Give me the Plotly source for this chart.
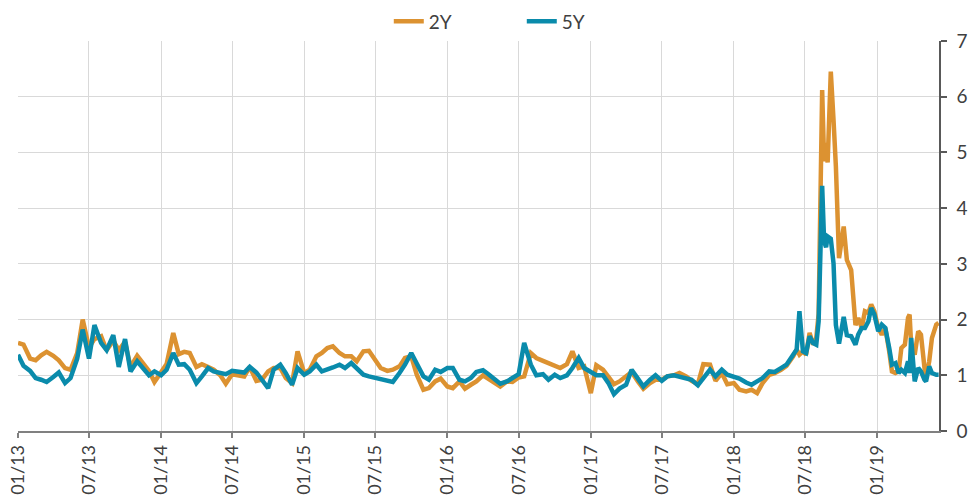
import pandas as pd
import plotly.graph_objects as go

# ---- data ----
# regular semi-monthly observations, Jan 2013 .. mid-May 2018
regular_dates = list(pd.date_range("2013-01-01", "2018-05-15", freq="SMS").strftime("%Y-%m-%d"))
# denser observations around the 2018 spike
extra_dates = [
    "2018-06-01", "2018-06-10", "2018-06-17", "2018-06-26", "2018-07-04", "2018-07-13",
    "2018-07-22", "2018-07-30", "2018-08-05", "2018-08-14", "2018-08-19", "2018-08-24",
    "2018-08-28", "2018-09-05", "2018-09-12", "2018-09-18", "2018-09-26", "2018-10-03",
    "2018-10-08", "2018-10-16", "2018-10-27", "2018-11-07", "2018-11-14", "2018-11-23",
    "2018-12-01", "2018-12-10", "2018-12-17", "2018-12-25", "2019-01-04", "2019-01-13",
    "2019-01-22", "2019-02-01", "2019-02-08", "2019-02-17", "2019-02-25", "2019-03-04",
    "2019-03-13", "2019-03-21", "2019-03-25", "2019-03-29", "2019-04-07", "2019-04-16",
    "2019-04-23", "2019-05-02", "2019-05-06", "2019-05-14", "2019-05-21", "2019-06-01",
    "2019-06-07",
]
dates = regular_dates + extra_dates

y2 = [
    # 2013
    1.58, 1.55, 1.30, 1.27, 1.36, 1.42, 1.35, 1.27, 1.13, 1.10, 1.40, 2.00,
    1.50, 1.65, 1.70, 1.45, 1.62, 1.45, 1.60, 1.15, 1.35, 1.22, 1.08, 0.88,
    # 2014
    1.05, 1.20, 1.76, 1.38, 1.42, 1.40, 1.15, 1.20, 1.15, 1.10, 1.00, 0.85,
    1.02, 1.00, 0.98, 1.15, 0.90, 0.92, 1.07, 1.13, 1.13, 0.95, 0.86, 1.43,
    # 2015
    1.04, 1.10, 1.34, 1.40, 1.49, 1.52, 1.40, 1.34, 1.34, 1.25, 1.43, 1.44,
    1.28, 1.13, 1.08, 1.10, 1.16, 1.31, 1.34, 1.01, 0.74, 0.77, 0.89, 0.94,
    # 2016
    0.80, 0.77, 0.89, 0.76, 0.83, 0.89, 1.00, 0.93, 0.86, 0.80, 0.89, 0.88,
    0.96, 0.98, 1.40, 1.31, 1.26, 1.22, 1.16, 1.13, 1.20, 1.43, 1.13, 1.16,
    # 2017
    0.68, 1.18, 1.10, 0.98, 0.84, 0.89, 0.98, 1.06, 0.89, 0.76, 0.86, 0.92,
    0.92, 0.98, 1.00, 1.04, 0.98, 0.90, 0.84, 1.20, 1.19, 0.90, 1.04, 0.84,
    # 2018 Jan - mid May
    0.86, 0.74, 0.71, 0.74, 0.68, 0.86, 1.01, 1.04, 1.10, 1.17,
    # dense part
    1.34, 1.46, 1.37, 1.43, 1.37, 1.76, 1.55, 1.67, 2.10, 6.12, 4.84, 5.17,
    4.82, 6.45, 5.58, 4.75, 3.10, 3.40, 3.67, 3.07, 2.89, 1.90, 2.03, 1.85,
    2.15, 2.12, 2.27, 2.15, 1.85, 1.73, 1.85, 1.43, 1.07, 1.04, 1.07, 1.49,
    1.55, 2.03, 2.09, 1.55, 1.37, 1.79, 1.73, 1.13, 0.95, 1.25, 1.67, 1.91,
    1.94,
]

y5 = [
    # 2013
    1.37, 1.17, 1.08, 0.95, 0.92, 0.88, 0.97, 1.05, 0.86, 0.95, 1.30, 1.82,
    1.30, 1.90, 1.58, 1.45, 1.72, 1.15, 1.65, 1.07, 1.25, 1.12, 1.00, 1.07,
    # 2014
    1.00, 1.10, 1.40, 1.19, 1.20, 1.10, 0.86, 0.98, 1.13, 1.07, 1.05, 1.02,
    1.08, 1.07, 1.05, 1.15, 1.05, 0.92, 0.77, 1.10, 1.19, 1.04, 0.83, 1.13,
    # 2015
    1.01, 1.07, 1.19, 1.07, 1.10, 1.14, 1.19, 1.13, 1.22, 1.13, 1.01, 0.98,
    0.95, 0.92, 0.90, 0.88, 1.04, 1.19, 1.40, 1.22, 0.98, 0.92, 1.10, 1.06,
    # 2016
    1.13, 1.13, 0.92, 0.89, 0.95, 1.06, 1.09, 1.02, 0.92, 0.85, 0.89, 0.95,
    1.02, 1.58, 1.19, 1.00, 1.02, 0.92, 1.01, 0.95, 1.00, 1.13, 1.31, 1.13,
    # 2017
    1.07, 1.00, 1.00, 0.86, 0.66, 0.76, 0.83, 1.10, 0.94, 0.80, 0.92, 1.00,
    0.90, 0.98, 1.00, 0.98, 0.95, 0.92, 0.82, 0.95, 1.10, 0.98, 1.10, 1.01,
    # 2018 Jan - mid May
    0.98, 0.94, 0.87, 0.83, 0.89, 0.95, 1.07, 1.06, 1.13, 1.19,
    # dense part
    1.37, 1.46, 2.15, 1.43, 1.40, 1.70, 1.58, 1.55, 1.97, 4.40, 3.40, 3.30,
    3.49, 3.45, 3.01, 1.90, 1.57, 1.80, 2.05, 1.72, 1.70, 1.55, 1.73, 1.85,
    1.85, 1.97, 2.21, 2.09, 1.79, 1.91, 1.85, 1.49, 1.19, 1.22, 1.04, 1.10,
    1.04, 1.25, 1.04, 1.67, 0.89, 1.13, 1.07, 0.92, 0.89, 1.16, 1.04, 1.01,
    1.01,
]

series_names = ["2Y", "5Y"]
colors = ["#DC9231", "#0A8BAB"]

FONT = "Lato, 'Open Sans', sans-serif"
TXT = "#404040"

fig = go.Figure()
for name, vals, col in zip(series_names, [y2, y5], colors):
    fig.add_trace(go.Scatter(
        x=dates, y=vals, mode="lines", name=name,
        line=dict(color=col, width=4.5),
    ))

fig.update_layout(
    width=971, height=504,
    margin=dict(l=18, r=32, t=41, b=73, autoexpand=False),
    paper_bgcolor="white", plot_bgcolor="white",
    font=dict(family=FONT, size=19, color=TXT),
    showlegend=True,
    legend=dict(
        orientation="h", x=0.547, xanchor="center", y=1.05, yanchor="middle",
        font=dict(size=19, color=TXT), bgcolor="rgba(0,0,0,0)",
        entrywidth=88, entrywidthmode="pixels",
    ),
    xaxis=dict(
        type="date", range=["2013-01-01", "2019-06-08"],
        tick0="2013-01-01", dtick="M6", tickformat="%m/%y",
        tickangle=-90, tickfont=dict(size=18, color=TXT),
        showgrid=True, gridcolor="#D9D9D9", gridwidth=1,
        showline=True, linecolor="#808080", linewidth=1.5,
        ticks="outside", ticklen=5, tickcolor="#808080", tickwidth=1.5,
        zeroline=False, automargin=False,
    ),
    yaxis=dict(
        side="right", range=[0, 7], dtick=1, tick0=0,
        tickfont=dict(size=19, color=TXT),
        showgrid=True, gridcolor="#D9D9D9", gridwidth=1,
        showline=True, linecolor="#595959", linewidth=1.5,
        ticks="outside", ticklen=6, tickcolor="#595959", tickwidth=1.5,
        zeroline=False, ticklabelstandoff=6, automargin=False,
    ),
)

# remove the browser's default page margin so the figure sits at the window's corner
fig.write_html(
    "out.html",
    config={"displayModeBar": False},
    post_script="document.body.style.margin='0';document.body.style.overflow='hidden';",
)
